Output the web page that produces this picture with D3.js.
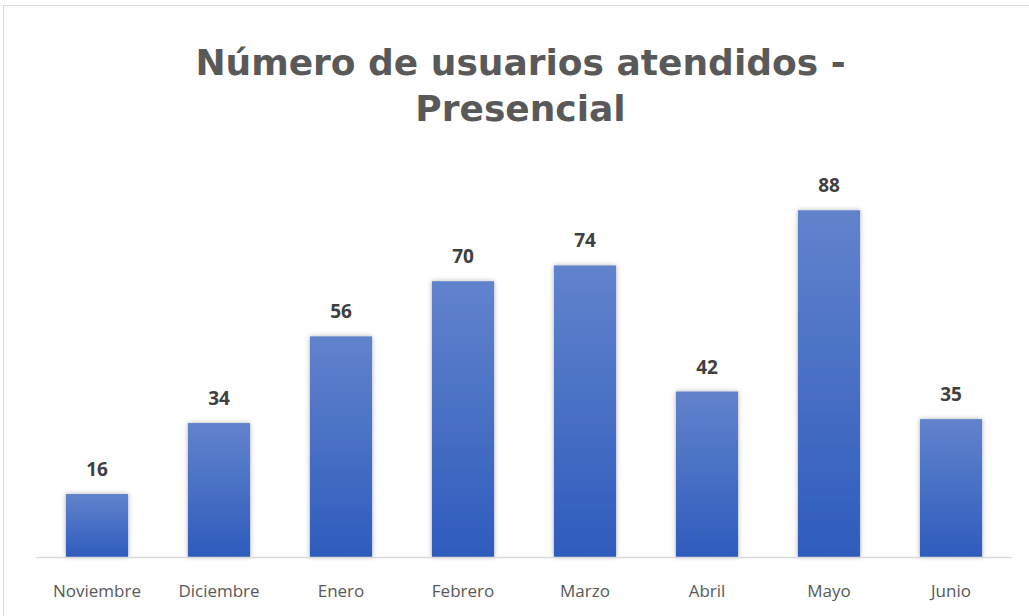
<!DOCTYPE html>
<html lang="es">
<head>
<meta charset="UTF-8">
<title>Número de usuarios atendidos - Presencial</title>
<script src="https://d3js.org/d3.v7.min.js"></script>
<style>
  body { margin: 0; background: #fff; }
  .title { fill: #595959; font: bold 36px "DejaVu Sans", sans-serif; text-anchor: middle; }
  .value { fill: #404040; font: bold 19px "Open Sans", sans-serif; text-anchor: middle; }
  .axis text { fill: #595959; font: 17px "Open Sans", sans-serif; }
  .axis path, .axis line { display: none; }
</style>
</head>
<body>
<script>
  // data
  const months = ["Noviembre", "Diciembre", "Enero", "Febrero", "Marzo", "Abril", "Mayo", "Junio"];
  const users = [16, 34, 56, 70, 74, 42, 88, 35];
  const titleLines = ["Número de usuarios atendidos -", "Presencial"];

  const W = 1029, H = 616;
  const margin = {top: 163, right: 17, bottom: 59, left: 36};
  const width = W - margin.left - margin.right;
  const height = H - margin.top - margin.bottom;

  const svg = d3.select("body").append("svg")
      .attr("width", W)
      .attr("height", H);

  // gradient + shadow for bars
  const defs = svg.append("defs");
  const grad = defs.append("linearGradient")
      .attr("id", "barGrad")
      .attr("x1", 0).attr("y1", 0).attr("x2", 0).attr("y2", 1);
  grad.append("stop").attr("offset", "0%").attr("stop-color", "#6283cc");
  grad.append("stop").attr("offset", "100%").attr("stop-color", "#2e5cbd");

  const shadow = defs.append("filter").attr("id", "shadow")
      .attr("x", "-30%").attr("y", "-10%").attr("width", "160%").attr("height", "120%");
  shadow.append("feDropShadow")
      .attr("dx", 0).attr("dy", 0).attr("stdDeviation", 2.5)
      .attr("flood-color", "#000").attr("flood-opacity", 0.3);

  // chart border
  svg.append("rect")
      .attr("x", 3.5).attr("y", 5.5)
      .attr("width", W - 3).attr("height", H)
      .attr("fill", "none").attr("stroke", "#d9d9d9");

  // title
  svg.append("text")
      .attr("class", "title")
      .selectAll("tspan")
      .data(titleLines)
      .join("tspan")
      .attr("x", W / 2 + 6)
      .attr("y", (d, i) => 75 + i * 46)
      .text(d => d);

  const g = svg.append("g")
      .attr("transform", `translate(${margin.left},${margin.top})`);

  const x = d3.scaleBand()
      .domain(months)
      .range([0, width])
      .paddingInner(0.49)
      .paddingOuter(0.245);

  const y = d3.scaleLinear()
      .domain([0, 100])
      .range([height, 0]);

  // bars
  g.selectAll(".bar")
      .data(months)
      .join("rect")
      .attr("class", "bar")
      .attr("x", d => x(d))
      .attr("y", (d, i) => y(users[i]))
      .attr("width", x.bandwidth())
      .attr("height", (d, i) => y(0) - y(users[i]))
      .attr("fill", "url(#barGrad)")
      .attr("filter", "url(#shadow)");

  // baseline
  g.append("line")
      .attr("x1", 0).attr("x2", width)
      .attr("y1", y(0) + 0.5).attr("y2", y(0) + 0.5)
      .attr("stroke", "#d9d9d9").attr("stroke-width", 1.5);

  // value labels
  g.selectAll(".value")
      .data(months)
      .join("text")
      .attr("class", "value")
      .attr("x", d => x(d) + x.bandwidth() / 2)
      .attr("y", (d, i) => y(users[i]) - 18)
      .text((d, i) => users[i]);

  // x axis
  g.append("g")
      .attr("class", "axis")
      .attr("transform", `translate(0,${height})`)
      .call(d3.axisBottom(x).tickSize(0).tickPadding(28));
</script>
</body>
</html>
